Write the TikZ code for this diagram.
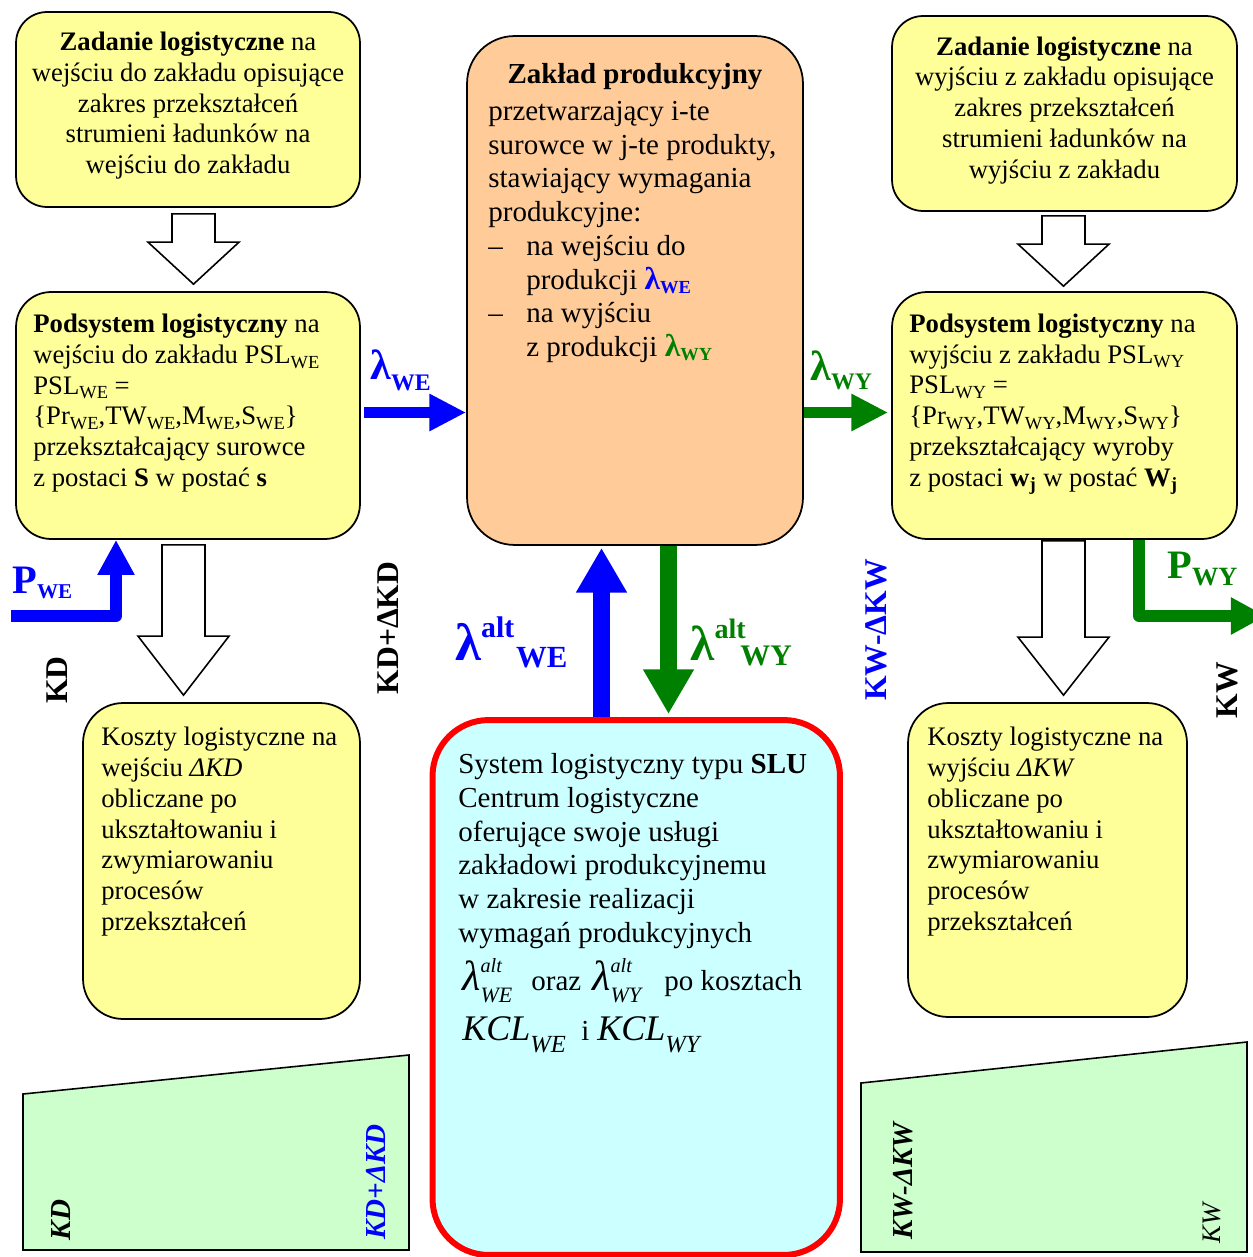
\documentclass[tikz,border=0pt]{standalone}
\usepackage{fontspec}
\setmainfont{Liberation Serif}
\usetikzlibrary{arrows.meta,calc}

\definecolor{yel}{RGB}{255,255,153}
\definecolor{orng}{RGB}{255,204,153}
\definecolor{cyn}{RGB}{204,255,255}
\definecolor{lgreen}{RGB}{204,255,204}
\definecolor{wblue}{RGB}{0,0,255}
\definecolor{wgreen}{RGB}{0,128,0}

% small lowered index as used in PSL_WE etc.
\newcommand\lsub[1]{\raisebox{-0.18em}{\fontsize{10.5}{10.5}\selectfont #1}}
% lambda with alt superscript and italic index
\newcommand\lalt[1]{{\fontsize{24}{24}\selectfont\itshape λ}\rlap{\raisebox{9.8pt}{\fontsize{11.5}{11.5}\selectfont\itshape alt}}\raisebox{-7pt}{\fontsize{12.5}{12.5}\selectfont\itshape #1}}
% cost symbol KCL with italic index
\newcommand\kcl[1]{{\fontsize{20.5}{20.5}\selectfont\itshape KCL}\raisebox{-7pt}{\fontsize{14}{14}\selectfont\itshape #1}}
% hollow block arrow pointing down: start, tip, head length
\newcommand\hollowdown[3]{%
  \draw[hollow] let \p1=(#1), \p2=(#2) in
    (\x1-0.43cm,\y1) -- (\x1+0.43cm,\y1) -- (\x1+0.43cm,\y2+#3) --
    (\x1+0.91cm,\y2+#3) -- (\x1,\y2) -- (\x1-0.91cm,\y2+#3) --
    (\x1-0.43cm,\y2+#3) -- cycle;}

\tikzset{
  box/.style={draw=black, line width=1pt, inner sep=0pt},
  yelbox/.style={box, fill=yel, rounded corners=0.62cm},
  body/.style={inner sep=0pt, font=\fontsize{15.2}{17.5}\selectfont},
  big/.style={inner sep=0pt, font=\fontsize{16.5}{19.2}\selectfont},
  vlab/.style={inner sep=0pt, rotate=90, font=\fontsize{18}{18}\selectfont\bfseries},
  tlab/.style={inner sep=0pt, rotate=90, font=\fontsize{16.5}{16.5}\selectfont\bfseries\itshape},
  hollow/.style={draw=black, fill=white, line width=0.9pt, line join=miter},
  flowarrow/.style={line width=6.3pt, -{Triangle[width=19.9pt,length=21pt]}},
  bendarrow/.style={line width=6.8pt, line join=round, -{Triangle[width=19.9pt,length=20pt]}},
  altarrow/.style={line width=9.7pt, -{Triangle[width=27.3pt,length=25.5pt]}},
  trap/.style={draw=black, fill=lgreen, line width=0.9pt},
}

\begin{document}
\begin{tikzpicture}[x=0.02cm,y=-0.02cm]
\useasboundingbox (0,0) rectangle (1252,1257);

% ---- boxes
\node[yelbox, minimum width=6.88cm, minimum height=3.9cm] (z1) at (188,109.5) {};
\node[yelbox, minimum width=6.9cm, minimum height=3.9cm] (z2) at (1064.5,113.5) {};
\node[yelbox, rounded corners=0.7cm, minimum width=6.88cm, minimum height=4.94cm] (p1) at (188,415.5) {};
\node[yelbox, rounded corners=0.7cm, minimum width=6.9cm, minimum height=4.94cm] (p2) at (1064.5,415.5) {};
\node[box, fill=orng, rounded corners=0.95cm, minimum width=6.72cm, minimum height=10.18cm] (zp) at (635,290.5) {};
\node[yelbox, rounded corners=0.8cm, minimum width=5.54cm, minimum height=6.32cm] (k1) at (221.5,861) {};
\node[yelbox, rounded corners=0.8cm, minimum width=5.58cm, minimum height=6.28cm] (k2) at (1047.5,860) {};
\node[draw=red, line width=3.4pt, fill=cyn, rounded corners=1.12cm, inner sep=0pt,
      minimum width=8.15cm, minimum height=10.7cm] (slu) at (636.25,987.5) {};

% ---- green cost trapezoids
\draw[trap] (23,1094) -- (409,1055) -- (409,1250) -- (23,1250) -- cycle;
\draw[trap] (861,1083) -- (1247,1042) -- (1247,1252) -- (861,1252) -- cycle;

% ---- texts in boxes
\node[body, anchor=north, align=center] (z1t) at (188,31.8)
  {\textbf{Zadanie logistyczne} na\\ wejściu do zakładu opisujące\\ zakres przekształceń\\ strumieni ładunków na\\ wejściu do zakładu};
\node[body, anchor=north, align=center] (z2t) at (1064.5,36.3)
  {\textbf{Zadanie logistyczne} na\\ wyjściu z zakładu opisujące\\ zakres przekształceń\\ strumieni ładunków na\\ wyjściu z zakładu};

\node[body, anchor=north west, align=left] (p1t) at (33,313.8)
  {\textbf{Podsystem logistyczny} na\\ wejściu do zakładu PSL\lsub{WE}\\ PSL\lsub{WE} =\\
   \{Pr\lsub{WE},TW\lsub{WE},M\lsub{WE},S\lsub{WE}\}\\ przekształcający surowce\\
   z postaci \textbf{S} w postać \textbf{s}};
\node[body, anchor=north west, align=left] (p2t) at (909,313.5)
  {\textbf{Podsystem logistyczny} na\\ wyjściu z zakładu PSL\lsub{WY}\\ PSL\lsub{WY} =\\
   \{Pr\lsub{WY},TW\lsub{WY},M\lsub{WY},S\lsub{WY}\}\\ przekształcający wyroby\\
   z postaci \textbf{w\textsubscript{j}} w postać \textbf{W\textsubscript{j}}};

\node[big, anchor=north, font=\fontsize{16.5}{19.2}\selectfont\bfseries] (zpt) at (635,63.2) {Zakład produkcyjny};
\node[big, anchor=north west, align=left] (zpb) at (488,100.9)
  {przetwarzający i-te\\ surowce w j-te produkty,\\ stawiający wymagania\\ produkcyjne:\\
   \makebox[21.6pt][l]{–}na wejściu do\\
   \hspace*{21.6pt}produkcji {\color{wblue}\bfseries\fontsize{18}{18}\selectfont λ\raisebox{-2.3pt}{\fontsize{10.5}{10.5}\selectfont WE}}\\
   \makebox[21.6pt][l]{–}na wyjściu\\
   \hspace*{21.6pt}z produkcji {\color{wgreen}\bfseries\fontsize{18}{18}\selectfont λ\raisebox{-2.3pt}{\fontsize{10.5}{10.5}\selectfont WY}}};

\node[body, anchor=north west, align=left] (k1t) at (101,727)
  {Koszty logistyczne na\\ wejściu \textit{ΔKD}\\ obliczane po\\ ukształtowaniu i\\ zwymiarowaniu\\ procesów\\ przekształceń};
\node[body, anchor=north west, align=left] (k2t) at (927,727)
  {Koszty logistyczne na\\ wyjściu \textit{ΔKW}\\ obliczane po\\ ukształtowaniu i\\ zwymiarowaniu\\ procesów\\ przekształceń};

\node[big, anchor=north west, align=left] (slut) at (458,753.2)
  {System logistyczny typu \textbf{SLU}\\ Centrum logistyczne\\ oferujące swoje usługi\\
   zakładowi produkcyjnemu\\ w zakresie realizacji\\ wymagań produkcyjnych};
\node[big, anchor=base west] (slul) at (462,990)
  {\makebox[39.3pt][l]{\lalt{WE}}\makebox[34.7pt][l]{oraz}\makebox[41pt][l]{\lalt{WY}}po kosztach};
\node[big, anchor=base west] (sluk) at (462,1040)
  {\makebox[67.7pt][l]{\kcl{WE}}\makebox[9.1pt][l]{i}\kcl{WY}};

% ---- hollow block arrows
\hollowdown{$(z1.south)+(5.5,6)$}{$(p1.north)+(5.5,-7)$}{0.84cm}
\hollowdown{$(z2.south)+(-1,4)$}{$(p2.north)+(-1,-5)$}{0.84cm}
\hollowdown{$(p1.south)+(-4.5,5)$}{$(k1.north)+(-38,-7)$}{1.18cm}
\hollowdown{$(p2.south)+(-1,1)$}{$(k2.north)+(16,-7)$}{1.16cm}

% ---- flows between subsystems and the plant
\coordinate (lweS) at ($(p1.east)+(3,-3)$);
\draw[flowarrow, draw=wblue] (lweS) -- (lweS -| zp.west);
\coordinate (lwyE) at ($(p2.west)+(-3,-3)$);
\draw[flowarrow, draw=wgreen] (lwyE -| zp.east) -- (lwyE);

\node[inner sep=0pt, anchor=base west, text=wblue, font=\bfseries] (lwel) at (370,379)
  {{\fontsize{24}{24}\selectfont λ}\raisebox{-6.5pt}{\fontsize{13.5}{13.5}\selectfont WE}};
\node[inner sep=0pt, anchor=base west, text=wgreen, font=\bfseries] (lwyl) at (810,380)
  {{\fontsize{24}{24}\selectfont λ}\raisebox{-5.5pt}{\fontsize{13.5}{13.5}\selectfont WY}};

% ---- P_WE and P_WY
\coordinate (pweS) at (11,616);
\draw[bendarrow, draw=wblue] (pweS) -| ($(p1.south)+(-72,0)$);
\coordinate (pwyE) at (1266,616);
\draw[bendarrow, draw=wgreen] ($(p2.south)+(74.5,0)$) |- (pwyE);
\node[inner sep=0pt, anchor=base west, text=wblue, font=\bfseries] (pwel) at (12,593)
  {{\fontsize{23}{23}\selectfont P}\raisebox{-3pt}{\fontsize{12}{12}\selectfont WE}};
\node[inner sep=0pt, anchor=base west, text=wgreen, font=\bfseries] (pwyl) at (1167,578)
  {{\fontsize{23}{23}\selectfont P}\raisebox{-4pt}{\fontsize{15}{15}\selectfont WY}};

% ---- alternative requirements between plant and SLU
\draw[altarrow, draw=wblue] ($(slu.north)+(-34.75,0)$) -- ($(zp.south)+(-33.5,2)$);
\draw[altarrow, draw=wgreen] ($(zp.south)+(33.5,0)$) -- ($(slu.north)+(32.25,-3)$);
\node[inner sep=0pt, anchor=base west, text=wblue, font=\bfseries] (lawe) at (455,660)
  {{\fontsize{30}{30}\selectfont λ}\raisebox{13pt}{\fontsize{17}{17}\selectfont alt}\hspace{1pt}\raisebox{-4.5pt}{\fontsize{17.5}{17.5}\selectfont WE}};
\node[inner sep=0pt, anchor=base west, text=wgreen, font=\bfseries] (lawy) at (690,660)
  {{\fontsize{28}{28}\selectfont λ}\raisebox{12.5pt}{\fontsize{16}{16}\selectfont alt}\hspace{-3pt}\raisebox{-3.4pt}{\fontsize{17}{17}\selectfont WY}};

% ---- cost labels
\node[vlab] (kd) at (57,680) {KD};
\node[vlab] (kdd) at (388,628) {KD+ΔKD};
\node[vlab, text=wblue] (kwd) at (876,630) {KW-ΔKW};
\node[vlab] (kw) at (1227,690) {KW};

\node[tlab] (tkd) at (61,1220) {KD};
\node[tlab, text=wblue] (tkdd) at (376,1182) {KD+ΔKD};
\node[tlab] (tkwd) at (903,1181) {KW-ΔKW};
\node[tlab, font=\fontsize{15.2}{15.2}\selectfont\itshape] (tkw) at (1212,1223) {KW};
\end{tikzpicture}
\end{document}
